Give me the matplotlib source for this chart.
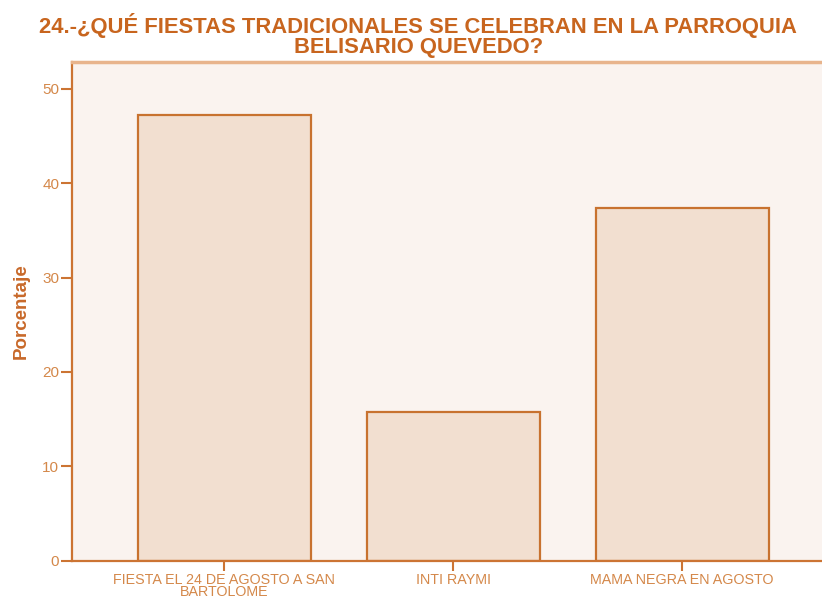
import matplotlib
matplotlib.use("Agg")
import matplotlib.pyplot as plt

categories = ["FIESTA EL 24 DE AGOSTO A SAN\nBARTOLOME", "INTI RAYMI", "MAMA NEGRA EN AGOSTO"]
values = [47.2, 15.8, 37.4]
yticks = [0, 10, 20, 30, 40, 50]

title = "24.-¿QUÉ FIESTAS TRADICIONALES SE CELEBRAN EN LA PARROQUIA\nBELISARIO QUEVEDO?"

plt.rcParams['font.family'] = ['Liberation Sans', 'DejaVu Sans']

fig = plt.figure(figsize=(8.22, 5.99), dpi=100)
ax = fig.add_axes([0.0872, 0.064, 0.9128, 0.8317])
ax.set_facecolor('#FAF3EF')

x = list(range(len(categories)))
ax.bar(x, values, width=0.755, color='#F2DFD0', edgecolor='#C8722F', linewidth=1.6, zorder=2)

ax.set_xlim(-0.666, 2.611)
ax.set_ylim(0, 52.8)
ax.set_yticks(yticks)
ax.set_yticklabels([str(v) for v in yticks])
ax.set_xticks(x)
ax.set_xticklabels(categories, linespacing=0.82)

tick_color = '#D4884A'
ax.tick_params(axis='y', length=8, width=1.5, color='#CC7433', labelcolor=tick_color,
               labelsize=11, pad=1)
ax.tick_params(axis='x', length=7, width=1.5, color='#CC7433', labelcolor=tick_color,
               labelsize=10.3, pad=2)

for s in ['left', 'bottom']:
    ax.spines[s].set_color('#CC7433')
    ax.spines[s].set_linewidth(1.6)
ax.spines['top'].set_color('#E8B48C')
ax.spines['top'].set_linewidth(2.5)
ax.spines['right'].set_visible(False)

ax.set_ylabel("Porcentaje", color='#C8692A', fontsize=13.5, fontweight='bold', labelpad=9)
fig.text(0.509, 0.978, title, ha='center', va='top', color='#C8651E',
         fontsize=15.8, fontweight='bold', linespacing=0.9)

fig.savefig("out.png", dpi=100)
